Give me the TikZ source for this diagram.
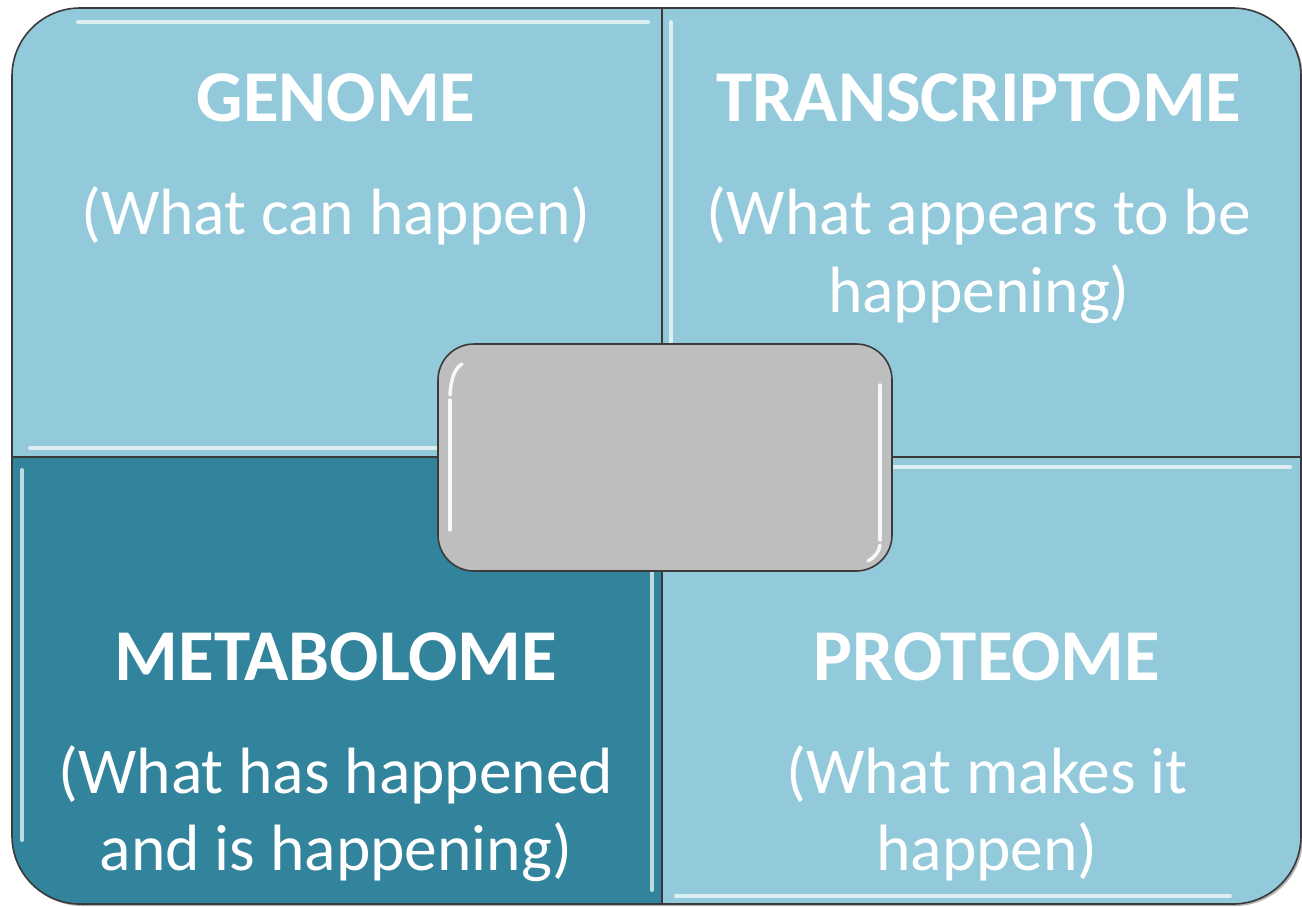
\documentclass[tikz,border=0pt]{standalone}
\usepackage{fontspec}
\setmainfont{Carlito}
\begin{document}
\begin{tikzpicture}[x=1pt,y=-1pt]
\definecolor{lightq}{HTML}{92CADB}
\definecolor{darkq}{HTML}{31849B}
\definecolor{grayc}{HTML}{BEBEBE}
\definecolor{edgec}{HTML}{3A3A3A}
\tikzset{
  quad/.style={draw=edgec, line width=1.6pt},
  shine/.style={draw=white, line width=4pt, line cap=round, opacity=0.7},
  title/.style={text=white, font=\fontsize{73}{88}\selectfont\bfseries, anchor=base, inner sep=0pt},
  body/.style={text=white, font=\fontsize{65.5}{78}\selectfont, anchor=base, inner sep=0pt, align=center},
}
\useasboundingbox (0,0) rectangle (1302,906);
% shadow
\fill[black, opacity=0.3] (14,460) -- (14,78) .. controls (14,40.5) and (44.5,10) .. (82,10) -- (1235,10) .. controls (1272.5,10) and (1303,40.5) .. (1303,78) -- (1303,838) .. controls (1303,875.5) and (1272.5,906) .. (1235,906) -- (82,906) .. controls (44.5,906) and (14,875.5) .. (14,838) -- cycle;
% quadrants
\path[quad, fill=lightq] (662,457) -- (12,457) -- (12,76) .. controls (12,38.5) and (42.5,8) .. (80,8) -- (662,8) -- cycle;
\path[quad, fill=lightq] (662,8) -- (1233,8) .. controls (1270.5,8) and (1301,38.5) .. (1301,76) -- (1301,457) -- (662,457) -- cycle;
\path[quad, fill=darkq] (12,457) -- (12,836) .. controls (12,873.5) and (42.5,904) .. (80,904) -- (662,904) -- (662,457) -- cycle;
\path[quad, fill=lightq] (662,457) -- (1301,457) -- (1301,836) .. controls (1301,873.5) and (1270.5,904) .. (1233,904) -- (662,904) -- cycle;
% highlights
\draw[shine] (78,22) -- (648,22);
\draw[shine] (30,448) -- (648,448);
\draw[shine] (671,22) -- (671,440);
\draw[shine] (22,470) -- (22,840);
\draw[shine] (652,470) -- (652,890);
\draw[shine] (676,467) -- (1290,467);
\draw[shine] (676,896) -- (1230,896);
% texts
\node[title] (g) at (336,121) {GENOME};
\node[body] (gs) at (336,234) {(What can happen)};
\node[title] (t) at (979,121) {TRANSCRIPTOME};
\node[body] (ts1) at (979,234) {(What appears to be};
\node[body] (ts2) at (979,312) {happening)};
\node[title] (m) at (336,680) {METABOLOME};
\node[body] (ms1) at (336,793) {(What has happened};
\node[body] (ms2) at (336,870) {and is happening)};
\node[title] (p) at (987,680) {PROTEOME};
\node[body] (ps1) at (987,793) {(What makes it};
\node[body] (ps2) at (987,870) {happen)};
% center box
\node[draw=edgec, line width=1.6pt, fill=grayc, rounded corners=36pt, minimum width=454pt, minimum height=227pt, inner sep=0pt] (c) at (665,457.5) {};
\draw[shine, opacity=0.9, line width=3.5pt] (450,395) .. controls (451,378) and (455,368) .. (462,364);
\draw[shine, opacity=0.9, line width=3.5pt] (450,400) -- (450,530);
\draw[shine, opacity=0.9, line width=3.5pt] (880,385) -- (880,540);
\draw[shine, opacity=0.9, line width=3.5pt] (880,545) .. controls (879,552) and (875,557) .. (868,561);
\end{tikzpicture}
\end{document}
